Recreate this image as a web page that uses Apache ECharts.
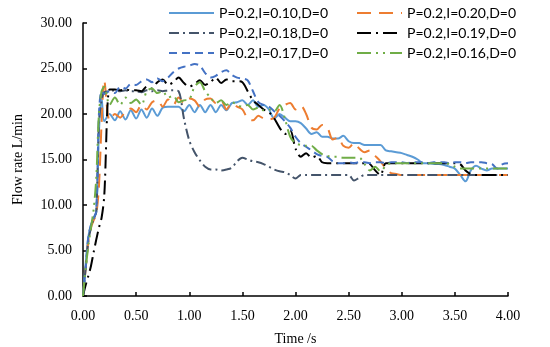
<!DOCTYPE html>
<html>
<head>
<meta charset="utf-8">
<script src="https://cdn.jsdelivr.net/npm/echarts@6/dist/echarts.min.js"></script>
<style>html,body{margin:0;padding:0;background:#fff}#c{width:550px;height:347px}</style>
</head>
<body>
<div id="c"></div>
<script>
// Shared time axis (s)
var time = [0,0.025,0.05,0.075,0.1,0.125,0.15,0.175,0.2,
  0.25,0.3,0.35,0.4,0.45,0.5,0.55,0.6,0.65,0.7,0.75,0.8,0.85,0.9,0.95,1.0,
  1.05,1.1,1.15,1.2,1.25,1.3,1.35,1.4,1.45,1.5,1.55,1.6,1.65,1.7,1.75,1.8,
  1.85,1.9,1.95,2.0,2.05,2.1,2.15,2.2,2.25,2.3,2.35,2.4,2.45,2.5,2.55,2.6,
  2.65,2.7,2.75,2.8,2.85,2.9,2.95,3.0,3.05,3.1,3.15,3.2,3.25,3.3,3.35,3.4,
  3.45,3.5,3.55,3.6,3.65,3.7,3.75,3.8,3.85,3.9,3.95,4.0];

var seriesNames = ["P=0.2,I=0.10,D=0","P=0.2,I=0.20,D=0","P=0.2,I=0.18,D=0",
                   "P=0.2,I=0.19,D=0","P=0.2,I=0.17,D=0","P=0.2,I=0.16,D=0"];

var flowI010 = [0,3.5,6.5,7.8,8.6,9.3,18,21.8,19.2,
  20.0,19.3,20.3,19.4,20.4,19.5,20.5,19.6,20.6,19.8,20.7,20.8,20.8,20.8,20.3,21.0,
  20.2,21.0,20.2,21.0,20.2,21.0,20.4,21.2,21.3,21.5,21.0,21.5,20.8,21.0,20.5,19.5,
  20.0,19.6,19.2,19.2,19.0,18.4,17.8,18.0,17.5,17.5,17.3,17.3,17.6,17.0,16.8,16.8,
  16.6,16.6,16.6,16.6,16.0,15.9,15.8,15.7,15.5,15.3,15.0,14.6,14.6,14.5,14.5,14.4,
  14.2,14.0,13.3,12.6,13.8,14.3,14.0,13.8,14.0,14.0,14.0,14.0];

var flowI020 = [0,3,6,7.5,8.3,9,12,19,23.7,
  19.3,20.0,19.6,20.3,20.6,20.2,21.0,20.5,21.3,21.5,20.8,21.6,21.0,21.8,21.2,21.7,
  21.5,20.8,21.6,21.7,21.2,21.5,20.5,21.2,20.8,20.5,19.5,19.3,19.8,19.5,19.4,19.6,
  20.6,21.0,21.2,20.5,20.9,20.0,18.5,18.3,18.8,18.5,17.2,17.4,16.5,16.3,16.8,16.2,
  15.8,16.0,15.4,14.8,14.0,13.5,13.4,13.3,13.3,13.3,13.3,13.3,13.3,13.3,13.3,13.3,
  13.3,13.3,13.3,13.3,13.3,13.3,13.3,13.3,13.3,13.3,13.3,13.3];

var flowI018 = [0,3,6,7.5,8.5,9.2,19,21.5,22.4,
  22.5,22.6,22.5,22.6,22.5,22.5,22.4,22.6,22.5,22.6,22.5,22.6,22.6,22.5,19.5,17.1,
  15.8,14.9,14.2,13.9,13.9,13.8,13.9,14.1,14.8,15.2,15.0,14.8,14.7,14.5,14.2,13.9,
  13.7,13.6,13.3,12.9,13.3,13.3,13.3,13.3,13.3,13.3,13.3,13.3,13.3,13.3,12.7,13.0,
  13.3,13.3,13.3,13.3,13.3,13.3,13.3,13.3,13.3,13.3,13.3,13.3,13.3,13.3,13.3,13.3,
  13.3,13.3,13.3,13.3,13.3,13.3,13.3,13.3,13.3,13.3,13.3,13.3];

var flowI019 = [0,1.2,2.2,3.3,4.8,6.2,7.5,8.6,11,
  22.7,22.7,22.6,22.7,22.6,22.6,22.5,23.0,22.8,23.5,23.8,23.2,23.5,24.0,23.4,23.0,
  23.3,23.7,23.2,23.5,24.0,23.4,23.8,23.6,23.6,23.5,22.5,21.5,21.0,20.5,20.2,19.5,
  18.5,17.8,18.2,16.2,15.3,15.7,15.2,15.4,14.7,14.6,14.6,14.6,14.6,14.6,14.6,14.6,
  14.6,14.5,13.8,13.3,14.6,14.6,14.6,14.6,14.6,14.6,14.6,14.6,14.6,14.6,14.6,14.6,
  14.6,14.6,14.5,13.8,13.4,13.3,13.3,13.3,13.3,13.3,13.3,13.3];

var flowI017 = [0,3,6.5,7.8,8.5,9.3,20,22.5,22.2,
  22.5,22.3,23.0,22.8,23.3,23.2,23.6,23.8,23.5,23.9,23.6,24.0,24.6,25.0,25.2,25.3,
  25.5,25.3,24.5,24.0,24.2,24.6,24.8,24.3,24.0,23.9,23.7,22.5,21.3,21.0,20.8,20.3,
  19.8,19.2,18.5,17.5,16.8,16.4,16.0,15.6,15.4,15.3,14.8,14.6,14.6,14.7,14.6,14.7,
  14.7,14.6,14.7,14.7,14.6,14.7,14.7,14.7,14.6,14.7,14.7,14.7,14.6,14.7,14.7,14.7,
  14.6,14.7,14.7,14.6,14.7,14.7,14.7,14.6,14.5,14.0,14.5,14.6];

var flowI016 = [0,3,5.5,7.5,9.5,13,20,22.5,23.0,
  21.0,21.8,21.0,21.8,21.2,21.6,21.0,22.5,22.8,22.3,22.5,21.8,22.0,21.3,21.5,21.6,
  23.0,23.5,22.5,21.8,21.2,21.5,21.0,21.3,21.0,20.8,21.0,20.5,20.7,20.4,20.5,20.3,
  21.0,19.5,17.5,16.8,16.6,16.5,16.5,16.0,15.6,15.4,15.3,15.3,15.2,15.2,15.2,15.2,
  14.5,13.8,14.2,13.7,14.3,14.6,14.6,14.6,14.6,14.6,14.6,14.6,14.6,14.6,14.6,14.6,
  14.5,14.2,14.0,14.0,14.0,14.0,14.0,14.0,14.0,14.0,14.0,14.0];

var yTicks = [0,5,10,15,20,25,30];
var xTicks = [0,0.5,1,1.5,2,2.5,3,3.5,4];

var values = [flowI010, flowI020, flowI018, flowI019, flowI017, flowI016];
var colors = ["#5B9BD5","#ED7D31","#44546A","#000000","#4472C4","#70AD47"];
var dashes = ["solid",[14,8],[10,4,2,4],[14,5,2,5],[8,5],[14,5,2,5,2,5]];

function pairs(v){ return time.map(function(t,i){ return [t, v[i]]; }); }

var series = values.map(function(v, k){
  return {
    name: seriesNames[k], type: 'line', data: pairs(v), symbol: 'none',
    smooth: 0.3, animation: false,
    lineStyle: { color: colors[k], width: 2, type: dashes[k] },
    itemStyle: { color: colors[k] }
  };
});

var serif = "'Liberation Serif','Times New Roman',serif";
var legendText = { fontFamily: "Lato, 'Noto Sans', sans-serif", fontSize: 14, color: '#000' };
var legendBase = { top: 1, orient: 'vertical', itemGap: 6, itemWidth: 45, itemHeight: 14,
  itemStyle: { opacity: 0 }, textStyle: legendText, selectedMode: false };

var chart = echarts.init(document.getElementById('c'), null, {renderer: 'canvas'});
chart.setOption({
  animation: false,
  backgroundColor: '#fff',
  grid: { left: 83, right: 42, top: 23, bottom: 51, containLabel: false, outerBoundsMode: 'none' },
  legend: [
    Object.assign({ left: 163, data: [seriesNames[0], seriesNames[2], seriesNames[4]] }, legendBase),
    Object.assign({ left: 351, data: [seriesNames[1], seriesNames[3], seriesNames[5]] }, legendBase)
  ],
  xAxis: {
    type: 'value', min: xTicks[0], max: xTicks[xTicks.length-1], interval: 0.5,
    name: 'Time /s', nameLocation: 'middle', nameGap: 36,
    nameTextStyle: { fontFamily: serif, fontSize: 14, color: '#000' },
    axisLine: { lineStyle: { color: '#000', width: 1.5 } },
    axisTick: { inside: true, length: 4, lineStyle: { color: '#000', width: 1.5 } },
    axisLabel: { fontFamily: serif, fontSize: 14, color: '#000', margin: 13,
      formatter: function(v){ return v.toFixed(2); } },
    splitLine: { show: false }
  },
  yAxis: {
    type: 'value', min: yTicks[0], max: yTicks[yTicks.length-1], interval: 5,
    name: 'Flow rate L/min', nameLocation: 'middle', nameGap: 58,
    nameTextStyle: { fontFamily: serif, fontSize: 14, color: '#000' },
    axisLine: { show: true, lineStyle: { color: '#000', width: 1.5 } },
    axisTick: { show: true, inside: true, length: 4, lineStyle: { color: '#000', width: 1.5 } },
    axisLabel: { fontFamily: serif, fontSize: 14, color: '#000', margin: 11,
      formatter: function(v){ return v.toFixed(2); } },
    splitLine: { show: false }
  },
  series: series
});
</script>
</body>
</html>
